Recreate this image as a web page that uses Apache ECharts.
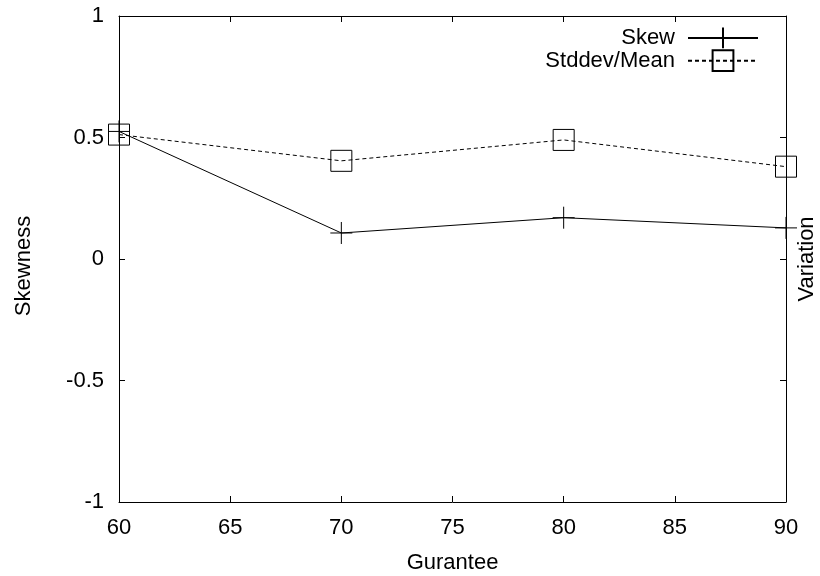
<!DOCTYPE html>
<html>
<head>
<meta charset="utf-8">
<script src="https://cdn.jsdelivr.net/npm/echarts@6/dist/echarts.min.js"></script>
<style>
    html, body { margin: 0; padding: 0; background: #fff; }
    #chart { width: 820px; height: 576px; }
</style>
</head>
<body>
<div id="chart"></div>
<script>
    // gurantee levels on the x axis
    var guarantee = [60, 70, 80, 90];
    var skew = [0.525, 0.107, 0.170, 0.128];
    var stddevMean = [0.512, 0.404, 0.490, 0.380];
    var yTicks = [-1, -0.5, 0, 0.5, 1];

    var font = 'Liberation Sans, Arial, sans-serif';
    var plusPath = 'path://M0,-10L0,10M-10,0L10,0';

    function pairs(xs, ys) {
        return xs.map(function (x, i) { return [x, ys[i]]; });
    }

    var option = {
        animation: false,
        backgroundColor: '#fff',
        textStyle: { fontFamily: font, color: '#000' },
        grid: { left: 119, right: 34, top: 16, bottom: 74, outerBoundsMode: 'none' },
        legend: {
            orient: 'vertical',
            right: 61,
            top: 26.5,
            padding: 0,
            align: 'right',
            itemWidth: 70,
            itemHeight: 26,
            itemGap: 0,
            textStyle: { fontSize: 22, lineHeight: 22, fontFamily: font, color: '#000', padding: [0, 8, 0, 0] },
            data: ['Skew', 'Stddev/Mean']
        },
        xAxis: [{
            type: 'value',
            min: 60, max: 90, interval: 5,
            name: 'Gurantee',
            nameLocation: 'middle',
            nameGap: 50,
            nameTextStyle: { fontSize: 22, color: '#000' },
            axisLine: { onZero: false, lineStyle: { color: '#000', width: 1 } },
            axisTick: { inside: true, length: 6, lineStyle: { color: '#000' } },
            axisLabel: { fontSize: 22, color: '#000', margin: 15 },
            splitLine: { show: false }
        }, {
            type: 'value',
            position: 'top',
            min: 60, max: 90, interval: 5,
            axisLine: { onZero: false, lineStyle: { color: '#000', width: 1 } },
            axisTick: { inside: true, length: 6, lineStyle: { color: '#000' } },
            axisLabel: { show: false },
            splitLine: { show: false }
        }],
        yAxis: [{
            type: 'value',
            min: yTicks[0], max: yTicks[yTicks.length - 1], interval: 0.5,
            name: 'Skewness',
            nameLocation: 'middle',
            nameGap: 84,
            nameTextStyle: { fontSize: 22, color: '#000', padding: [0, 14, 0, 0] },
            axisLine: { show: true, onZero: false, lineStyle: { color: '#000', width: 1 } },
            axisTick: { show: true, inside: true, length: 6, lineStyle: { color: '#000' } },
            axisLabel: { fontSize: 22, color: '#000', margin: 15 },
            splitLine: { show: false }
        }, {
            type: 'value',
            position: 'right',
            min: yTicks[0], max: yTicks[yTicks.length - 1], interval: 0.5,
            name: 'Variation',
            nameLocation: 'middle',
            nameGap: 10,
            nameRotate: 90,
            nameTextStyle: { fontSize: 22, color: '#000' },
            axisLine: { show: true, onZero: false, lineStyle: { color: '#000', width: 1 } },
            axisTick: { show: true, inside: true, length: 6, lineStyle: { color: '#000' } },
            axisLabel: { show: false },
            splitLine: { show: false }
        }],
        series: [{
            name: 'Skew',
            type: 'line',
            data: pairs(guarantee, skew),
            symbol: plusPath,
            symbolSize: 22,
            showAllSymbol: true,
            lineStyle: { color: '#000', width: 1 },
            itemStyle: { color: 'transparent', borderColor: '#000', borderWidth: 1 },
            z: 3
        }, {
            name: 'Stddev/Mean',
            type: 'line',
            data: pairs(guarantee, stddevMean),
            symbol: 'rect',
            symbolSize: 21,
            showAllSymbol: true,
            lineStyle: { color: '#000', width: 1, type: [4, 3] },
            itemStyle: { color: 'transparent', borderColor: '#000', borderWidth: 1 },
            z: 2
        }]
    };

    var dom = echarts.init(document.getElementById('chart'));
    dom.setOption(option);
</script>
</body>
</html>
